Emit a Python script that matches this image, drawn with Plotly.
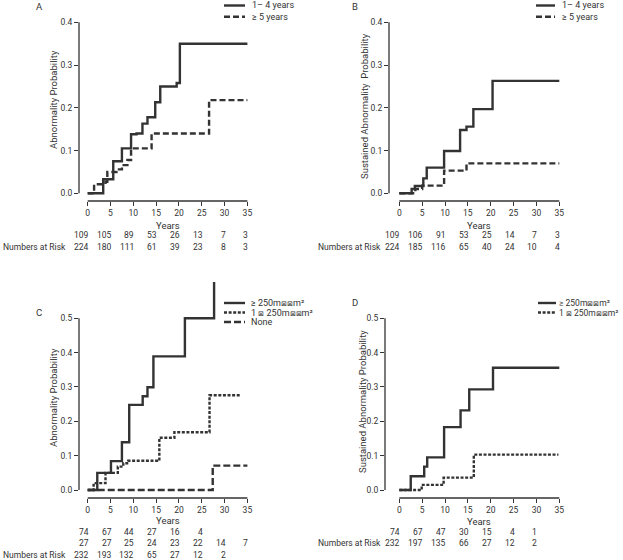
import plotly.graph_objects as go

W, H = 623, 560
FONT = "Roboto, Lato, sans-serif"
INK = "#333333"

# ---------------- data ----------------
risk_years = [0, 5, 10, 15, 20, 25, 30, 35]

# Panel A
a_t_14 = [0, 3.4, 5.6, 7.5, 9.5, 10.7, 12.0, 13.1, 14.8, 15.9, 19.5, 20.2, 35]
a_p_14 = [0, 0.033, 0.075, 0.105, 0.138, 0.140, 0.163, 0.178, 0.213, 0.250, 0.258, 0.350, 0.350]
a_t_5 = [0, 1.4, 3.9, 4.3, 6.3, 7.5, 8.7, 9.5, 14.0, 26.6, 35]
a_p_5 = [0, 0.021, 0.027, 0.050, 0.056, 0.066, 0.078, 0.105, 0.140, 0.218, 0.218]
a_risk_14 = [109, 105, 89, 53, 26, 13, 7, 3]
a_risk_5 = [224, 180, 111, 61, 39, 23, 8, 3]

# Panel B
b_t_14 = [0, 2.7, 3.4, 5.25, 6.0, 9.8, 13.3, 14.7, 16.2, 20.4, 35]
b_p_14 = [0, 0.010, 0.017, 0.035, 0.060, 0.099, 0.148, 0.156, 0.197, 0.263, 0.263]
b_t_5 = [0, 3.5, 5.0, 9.8, 14.7, 35]
b_p_5 = [0, 0.010, 0.018, 0.053, 0.070, 0.070]
b_risk_14 = [109, 106, 91, 53, 25, 14, 7, 3]
b_risk_5 = [224, 185, 116, 65, 40, 24, 10, 4]

# Panel C
c_t_hi = [0, 2.1, 5.1, 7.5, 9.1, 12.05, 13.1, 14.4, 21.3, 27.7, 27.7]
c_p_hi = [0, 0.050, 0.084, 0.139, 0.248, 0.273, 0.299, 0.389, 0.500, 0.610, 0.610]
c_t_lo = [0, 1.3, 3.9, 6.6, 7.8, 8.9, 15.7, 19.0, 26.7, 33.4]
c_p_lo = [0, 0.020, 0.050, 0.068, 0.078, 0.085, 0.152, 0.168, 0.276, 0.276]
c_t_none = [0, 27.4, 35]
c_p_none = [0, 0.071, 0.071]
c_risk_hi = [74, 67, 44, 27, 16, 4]
c_risk_lo = [27, 27, 25, 24, 23, 22, 14, 7]
c_risk_none = [232, 193, 132, 65, 27, 12, 2]

# Panel D
d_t_hi = [0, 2.5, 5.45, 6.1, 9.8, 13.4, 15.3, 20.5, 35]
d_p_hi = [0, 0.040, 0.068, 0.095, 0.183, 0.232, 0.293, 0.356, 0.356]
d_t_lo = [0, 4.9, 9.7, 16.3, 34.8]
d_p_lo = [0, 0.015, 0.036, 0.103, 0.103]
d_risk_hi = [74, 67, 47, 30, 15, 4, 1]
d_risk_lo = [232, 197, 135, 66, 27, 12, 2]

x_ticks = [0, 5, 10, 15, 20, 25, 30, 35]

# ---------------- layout helpers ----------------
fig = go.Figure()
layout = dict(width=W, height=H, margin=dict(l=0, r=0, t=0, b=0),
              paper_bgcolor="white", plot_bgcolor="white", showlegend=False,
              font=dict(family=FONT, size=10, color=INK))
shapes, annos = [], []
TICK_SIZE = 8.5
RISK_SIZE = 8.5
LABEL_SIZE = 9.5
ROW_LABEL_SIZE = 8.5
LEG_SIZE = 9


def px_x(p):
    return p / W


def px_y(p):
    return 1 - p / H


def panel(n, yline, xline, x0, x35, y0, ytp, ytv, top, right, ymax):
    per_x = (x35 - x0) / 35.0
    per_y = (y0 - ytp) / ytv
    sx = "" if n == 1 else str(n)
    xa = dict(domain=[px_x(yline), px_x(right)],
              range=[(yline - x0) / per_x, (right - x0) / per_x],
              anchor="y" + sx, tickvals=x_ticks, ticks="outside", ticklen=4,
              tickwidth=1.3, tickcolor=INK, showgrid=False, zeroline=False,
              showline=False, tickfont=dict(size=TICK_SIZE, family=FONT, color=INK))
    yvals = [round(i * 0.1, 1) for i in range(int(round(ymax * 10)) + 1)]
    ya = dict(domain=[px_y(xline), px_y(top)],
              range=[(y0 - xline) / per_y, (y0 - top) / per_y],
              anchor="x" + sx, tickvals=yvals, tickformat=".1f",
              ticks="outside", ticklen=4, tickwidth=1.3, tickcolor=INK,
              showgrid=False, zeroline=False, showline=False,
              tickfont=dict(size=TICK_SIZE, family=FONT, color=INK))
    layout["xaxis" + sx] = xa
    layout["yaxis" + sx] = ya
    # offset axis lines
    shapes.append(dict(type="line", xref="x" + sx, yref="y" + sx + " domain",
                       x0=0, x1=35, y0=0, y1=0, line=dict(color=INK, width=1.3)))
    shapes.append(dict(type="line", xref="x" + sx + " domain", yref="y" + sx,
                       x0=0, x1=0, y0=0, y1=ymax, line=dict(color=INK, width=1.3)))
    return "x" + sx, "y" + sx


def curve(ax, t, p, dash):
    fig.add_trace(go.Scatter(x=t, y=p, mode="lines", xaxis=ax[0], yaxis=ax[1],
                             line=dict(shape="hv", color=INK, width=2.4, dash=dash),
                             hoverinfo="skip"))


def text(x, y, s, anchor="left", size=LABEL_SIZE, angle=0):
    annos.append(dict(x=x, y=y, xref="paper", yref="paper", text=s, showarrow=False,
                      xanchor=anchor, yanchor="middle", textangle=angle,
                      font=dict(size=size, family=FONT, color=INK)))


def risk_row(ax, values, py):
    for yr, v in zip(risk_years, values):
        annos.append(dict(x=yr, y=px_y(py), xref=ax[0], yref="paper", text=str(v),
                          showarrow=False, xanchor="right", yanchor="middle",
                          xshift=3, font=dict(size=RISK_SIZE, family=FONT, color=INK)))


def legend_item(x0, x1, py, dash, label, tx, size=LEG_SIZE):
    shapes.append(dict(type="line", xref="paper", yref="paper",
                       x0=px_x(x0), x1=px_x(x1), y0=px_y(py), y1=px_y(py),
                       line=dict(color=INK, width=2.4, dash=dash)))
    text(px_x(tx), px_y(py), label, size=size)


DASH_LONG = "6px,3px"
DASH_DOT = "3px,1.6px"
DASH_NONE = "7px,3px"
BOX = "<span style='font-size:7px'>⊠</span>"
HI = "≥ 250m" + BOX + BOX + "m²"
LO = "1 " + BOX + " 250m" + BOX + BOX + "m²"

# Panel A
axA = panel(1, 79, 201, 87.7, 247.4, 193.3, 22.3, 0.4, 10, 252, 0.4)
curve(axA, a_t_14, a_p_14, "solid")
curve(axA, a_t_5, a_p_5, DASH_LONG)
risk_row(axA, a_risk_14, 235)
risk_row(axA, a_risk_5, 247)
text(px_x(1), px_y(247), "Numbers at Risk", size=ROW_LABEL_SIZE)
text(px_x(168), px_y(225), "Years", anchor="center")
text(px_x(53), px_y(100), "Abnormality Probability", anchor="center", angle=-90)
text(px_x(34), px_y(7), "A")
legend_item(224, 245, 5.5, "solid", "1– 4 years", 250)
legend_item(224, 245, 16.7, DASH_LONG, "≥ 5 years", 250)

# Panel B
axB = panel(2, 389, 201, 399.3, 559.3, 193.3, 22.3, 0.4, 10, 564, 0.4)
curve(axB, b_t_14, b_p_14, "solid")
curve(axB, b_t_5, b_p_5, DASH_LONG)
risk_row(axB, b_risk_14, 235)
risk_row(axB, b_risk_5, 247)
text(px_x(316), px_y(247), "Numbers at Risk", size=ROW_LABEL_SIZE)
text(px_x(479), px_y(225), "Years", anchor="center")
text(px_x(364), px_y(106), "Sustained Abnormality  Probability", anchor="center", angle=-90)
text(px_x(350), px_y(7), "B")
legend_item(536, 555, 5.5, "solid", "1– 4 years", 560)
legend_item(536, 555, 16.7, DASH_LONG, "≥ 5 years", 560)

# Panel C
axC = panel(3, 79, 498, 87.7, 247.4, 490, 318.3, 0.5, 282, 252, 0.5)
curve(axC, c_t_hi, c_p_hi, "solid")
curve(axC, c_t_lo, c_p_lo, DASH_DOT)
curve(axC, c_t_none, c_p_none, DASH_NONE)
risk_row(axC, c_risk_hi, 532)
risk_row(axC, c_risk_lo, 543)
risk_row(axC, c_risk_none, 555)
text(px_x(1), px_y(555), "Numbers at Risk", size=ROW_LABEL_SIZE)
text(px_x(168), px_y(520), "Years", anchor="center")
text(px_x(53), px_y(398), "Abnormality Probability", anchor="center", angle=-90)
text(px_x(34), px_y(312), "C")
legend_item(224, 245, 303, "solid", HI, 249)
legend_item(224, 245, 312.5, DASH_DOT, LO, 249)
legend_item(224, 245, 322, DASH_NONE, "None", 249)

# Panel D
axD = panel(4, 385, 498, 399.3, 559.3, 490, 318.3, 0.5, 282, 564, 0.5)
curve(axD, d_t_hi, d_p_hi, "solid")
curve(axD, d_t_lo, d_p_lo, DASH_DOT)
risk_row(axD, d_risk_hi, 532)
risk_row(axD, d_risk_lo, 543)
text(px_x(316), px_y(543), "Numbers at Risk", size=ROW_LABEL_SIZE)
text(px_x(479), px_y(521), "Years", anchor="center")
text(px_x(362), px_y(402), "Sustained Abnormality Probability", anchor="center", angle=-90)
text(px_x(350), px_y(302), "D")
legend_item(538, 556, 303, "solid", HI, 557, size=8.5)
legend_item(538, 556, 312.5, DASH_DOT, LO, 557, size=8.5)

layout["shapes"] = shapes
layout["annotations"] = annos
fig.update_layout(**layout)
fig.write_html("out.html", config={"displayModeBar": False},
               post_script="document.body.style.margin='0';document.body.style.overflow='hidden';")
